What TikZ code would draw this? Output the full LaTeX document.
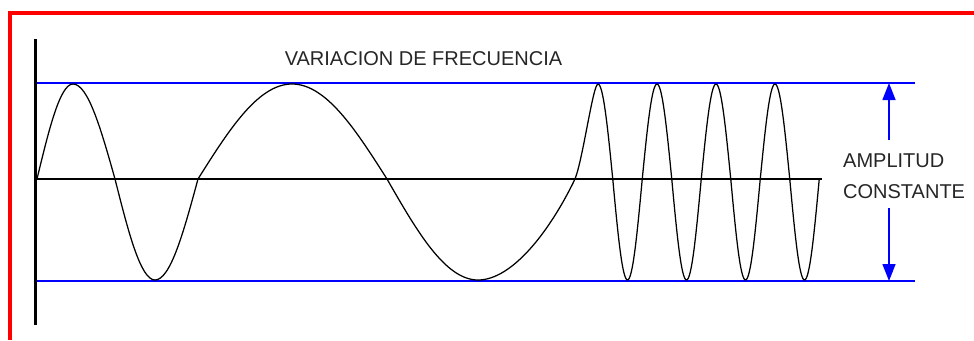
\documentclass[tikz,border=0pt]{standalone}
\usepackage{fontspec}
\setmainfont{Liberation Sans}
\usetikzlibrary{arrows.meta}
\definecolor{frame}{HTML}{FF0000}
\definecolor{level}{HTML}{0000FF}

\begin{document}
\begin{tikzpicture}[x=1pt,y=-1pt,>=Triangle,
  lab/.style={font=\fontsize{20}{32}\selectfont,text=black!85,inner sep=0pt},
  lvl/.style={draw=level,line width=1.5pt},
  amp/.style={->,level,line width=1.5pt,>={Triangle[length=17pt,width=13pt]}},
  wave/.style={draw=black,line width=1.25pt}]
\useasboundingbox (0,0) rectangle (974,340);

%% red frame (top and left only)
\draw[frame,line width=4pt] (10,340) |- (974,13);

%% axes
\draw[line width=3pt] (35,39) coordinate (ytop) -- (35,325) coordinate (ybot);
\draw[line width=1.2pt] (35,179) coordinate (x0) -- (822,179) coordinate (x1);

%% amplitude limits
\draw[lvl] (37,83) coordinate (hi0) -- (915,83) coordinate (hi1);
\draw[lvl] (37,281) coordinate (lo0) -- (915,281) coordinate (lo1);

%% signal: two slow cycles, then four fast ones
\draw[wave] (37,179) sin (73,84) cos (115,179) sin (155,280) cos (198,179)
  sin (292,84) cos (387,179) sin (478,280)
  .. controls (513,280) and (551,229) .. (575,179)
  .. controls (583,159) and (593,84) .. (598,84)
  \foreach \k in {1,2,3} { cos ++(14.75,95) sin ++(14.75,101) cos ++(14.75,-101) sin ++(14.75,-95) }
  cos ++(14.75,95) sin ++(14.75,101) cos ++(14.75,-101);

%% labels
\node[lab,anchor=base] (title) at (423.5,65) {VARIACION DE FRECUENCIA};
\node[lab,anchor=base west] (ampl) at (843,167) {AMPLITUD};
\node[lab,anchor=base west] (const) at (843,198) {CONSTANTE};

%% amplitude arrows
\coordinate (ampUp) at (889,140);
\coordinate (ampDn) at (889,208);
\draw[amp] (ampUp) -- (ampUp |- hi1);
\draw[amp] (ampDn) -- (ampDn |- lo1);
\end{tikzpicture}
\end{document}
